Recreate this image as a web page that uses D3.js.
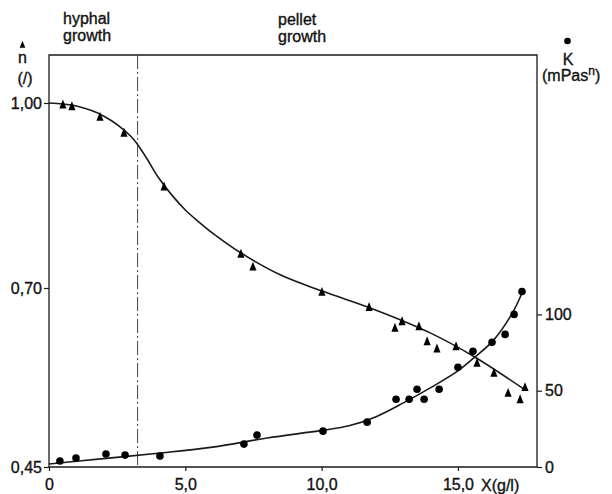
<!DOCTYPE html>
<html><head><meta charset="utf-8">
<script src="https://cdn.jsdelivr.net/npm/d3@7"></script>
<style>
body{margin:0;background:#fff;}
text{font-family:"Liberation Sans",Arial,sans-serif;fill:#111;stroke:#111;stroke-width:0.35;}
</style></head>
<body><svg id="c" width="612" height="494"></svg>
<script>
// n (flow behaviour index) measured points: [X g/l, n]
const nX = [0.51,0.84,1.87,2.75,4.22,7.04,7.48,10.01,11.74,12.69,12.95,13.57,13.87,14.23,14.93,15.70,16.32,16.84,17.28,17.46];
const nVal = [0.997,0.994,0.977,0.951,0.864,0.755,0.734,0.694,0.673,0.644,0.653,0.646,0.625,0.615,0.618,0.595,0.581,0.553,0.544,0.561];
// K (consistency index, mPas^n) measured points
const kX = [0.40,0.99,2.09,2.79,4.07,7.15,7.63,10.05,11.67,12.73,13.21,13.50,13.76,14.31,15.00,15.55,16.25,16.73,17.06,17.35];
const kVal = [3.9,5.9,8.5,7.8,7.2,15.0,20.9,23.5,29.4,44.4,44.4,51.0,44.4,51.0,65.4,75.8,81.7,86.9,100.0,115.0];
// fitted curves
const nFitX = [0,1,2,3,3.5,4,4.5,5,5.5,6,7,8.5,10,12,14,15.6,17.45];
const nFit = [1.0,0.995,0.979,0.946,0.916,0.880,0.851,0.8265,0.807,0.789,0.758,0.721,0.696,0.669,0.637,0.604,0.558];
const kFitX = [0,2,4,6,8,10,11,12,13,14,15,15.55,16.3,17,17.35];
const kFit = [2,5.5,9,13,19,24,27,33,42,52,63,71,83,101,114];
// tick labels
const xTicks = [0,5,10,15];
const xTickLabels = ["0","5,0","10,0","15,0"];
const nTicks = [0.45,0.70,1.00];
const nTickLabels = ["0,45","0,70","1,00"];
const kTicks = [0,50,100];
const kTickLabels = ["0","50","100"];
const phaseBoundary = 3.25;

const svg = d3.select("#c");
const L=49,R=537,T=55,B=467;
const x = d3.scaleLinear().domain([0,17.9]).range([L,R]);
const yN = d3.scaleLinear().domain([0.45,0.70,1.00]).range([B,288,103]);
const yK = d3.scaleLinear().domain([0,270]).range([B,T]);
const ink="#1a1a1a";

// frame
svg.append("path").attr("d",`M${L},${B}V${T}H${R}V${B}H${L}`).attr("fill","none").attr("stroke",ink).attr("stroke-width",1.3);
// phase boundary
svg.append("line").attr("x1",x(phaseBoundary)).attr("x2",x(phaseBoundary)).attr("y1",T).attr("y2",B)
  .attr("stroke","#444").attr("stroke-width",1).attr("stroke-dasharray","14,3,2,3");

const fs=16;
// axes
const ax = svg.append("g").attr("transform",`translate(0,${B})`)
  .call(d3.axisBottom(x).tickValues(xTicks).tickFormat((d,i)=>xTickLabels[i]).tickSize(4).tickSizeOuter(0).tickPadding(8));
const al = svg.append("g").attr("transform",`translate(${L},0)`)
  .call(d3.axisLeft(yN).tickValues(nTicks).tickFormat((d,i)=>nTickLabels[i]).tickSize(5).tickSizeOuter(0).tickPadding(2));
const ar = svg.append("g").attr("transform",`translate(${R},0)`)
  .call(d3.axisRight(yK).tickValues(kTicks).tickFormat((d,i)=>kTickLabels[i]).tickSize(5).tickSizeOuter(0).tickPadding(3));
[ax,al,ar].forEach(g=>{
  g.select(".domain").remove();
  g.selectAll("line").attr("stroke",ink).attr("stroke-width",1.2);
  g.selectAll("text").attr("font-size",fs).attr("font-family","Liberation Sans, Arial, sans-serif").attr("fill","#111");
});
svg.append("text").attr("x",481).attr("y",B+24).attr("font-size",fs).text("X(g/l)");

// curves
const lineN = d3.line().x(d=>x(d[0])).y(d=>yN(d[1])).curve(d3.curveCatmullRom);
const lineK = d3.line().x(d=>x(d[0])).y(d=>yK(d[1])).curve(d3.curveCatmullRom);
svg.append("path").datum(nFitX.map((v,i)=>[v,nFit[i]])).attr("d",lineN).attr("fill","none").attr("stroke",ink).attr("stroke-width",1.6);
svg.append("path").datum(kFitX.map((v,i)=>[v,kFit[i]])).attr("d",lineK).attr("fill","none").attr("stroke",ink).attr("stroke-width",1.6);

// markers: narrow triangle symbol
const narrowTri = {draw(ctx,size){const w=Math.sqrt(size)*0.8,h=Math.sqrt(size);ctx.moveTo(0,-h*0.6);ctx.lineTo(w/2,h*0.4);ctx.lineTo(-w/2,h*0.4);ctx.closePath();}};
const tri = d3.symbol().type(narrowTri).size(80);
svg.append("g").selectAll("path").data(nX.map((v,i)=>[v,nVal[i]])).join("path")
  .attr("d",tri).attr("transform",d=>`translate(${x(d[0])},${yN(d[1])})`).attr("fill","#000");
svg.append("g").selectAll("circle").data(kX.map((v,i)=>[v,kVal[i]])).join("circle")
  .attr("cx",d=>x(d[0])).attr("cy",d=>yK(d[1])).attr("r",3.8).attr("fill","#000");

// annotations
function lines(xp,ys,arr){arr.forEach((t,i)=>svg.append("text").attr("x",xp).attr("y",ys[i]).attr("font-size",fs).text(t));}
lines(63,[24,41],["hyphal","growth"]);
lines(278,[25,42],["pellet","growth"]);
// n label
svg.append("path").attr("d",d3.symbol().type(narrowTri).size(50)).attr("transform","translate(22.5,45)").attr("fill","#000");
svg.append("text").attr("x",22.5).attr("y",63).attr("font-size",fs).attr("text-anchor","middle").text("n");
svg.append("text").attr("x",25).attr("y",84).attr("font-size",fs).attr("text-anchor","middle").text("(/)");
// K label
svg.append("circle").attr("cx",567.5).attr("cy",41).attr("r",3.3).attr("fill","#000");
svg.append("text").attr("x",568).attr("y",65).attr("font-size",fs).attr("text-anchor","middle").text("K");
const kt = svg.append("text").attr("x",542).attr("y",81).attr("font-size",fs);
kt.append("tspan").text("(mPas");
kt.append("tspan").attr("dy",-6).attr("font-size",12).text("n");
kt.append("tspan").attr("dy",6).text(")");
</script></body></html>
